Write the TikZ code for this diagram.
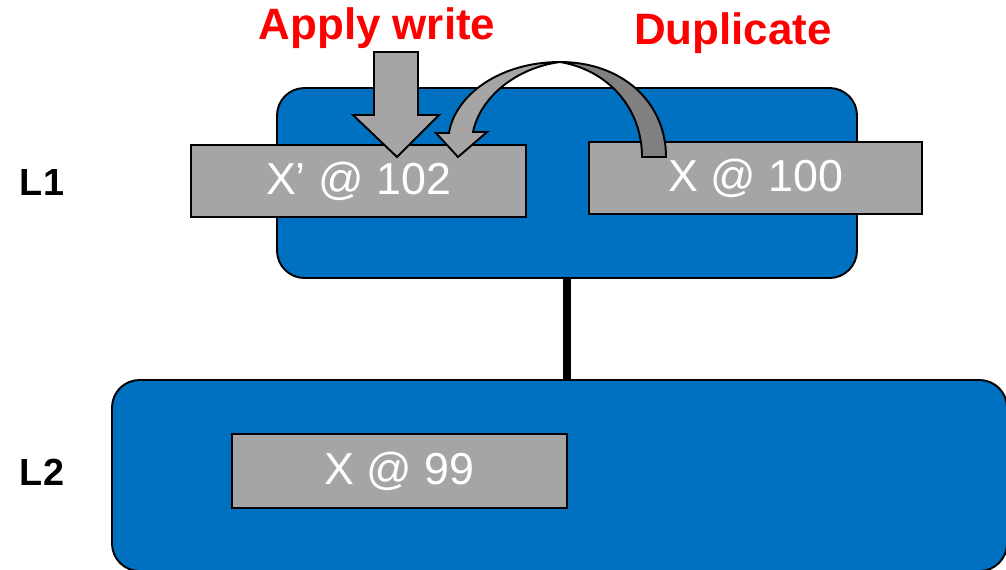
\documentclass[tikz,border=0pt]{standalone}
\usepackage{fontspec}
\setmainfont{Liberation Sans}
\definecolor{levelblue}{HTML}{0070C0}
\definecolor{entrygray}{HTML}{A5A5A5}
\definecolor{shadegray}{HTML}{808080}
\begin{document}
\begin{tikzpicture}[x=0.02cm,y=-0.02cm,
  level/.style={draw=black,line width=1.1pt,fill=levelblue,rounded corners=0.55cm,inner sep=0pt},
  entry/.style={draw=black,line width=1.1pt,fill=entrygray,text=white,inner sep=0pt,
    font=\fontsize{25.5}{30}\selectfont},
  lvlabel/.style={font=\fontsize{21.5}{26}\selectfont\bfseries},
  note/.style={font=\fontsize{25}{30}\selectfont\bfseries,text=red},
  blockarrow/.style={draw=black,line width=1.1pt,line join=miter}]
\useasboundingbox (0,0) rectangle (1006,569);
\begin{scope}
\clip (0,0) rectangle (1006,569);
% levels
\node[level,minimum width=580*0.02cm,minimum height=190*0.02cm] (l1) at (567,183) {};
\node[level,minimum width=895*0.02cm,minimum height=191*0.02cm] (l2) at (559.5,475.5) {};
\draw[line width=4.5pt] (l1.south) -- (l1.south |- l2.north);
% entries
\node[entry,minimum width=335*0.02cm,minimum height=72*0.02cm] (xnew) at (358.5,181) {X’ @ 102};
\node[entry,minimum width=333*0.02cm,minimum height=72*0.02cm] (xold) at (755.5,178) {X @ 100};
\node[entry,minimum width=335*0.02cm,minimum height=74*0.02cm] (xl2) at (399.5,471) {X @ 99};
\end{scope}
% level labels
\node[lvlabel] (lab1) at (42,182) {L1};
\node[lvlabel] (lab2) at (42,472) {L2};
% operation labels
\node[note] (apply) at (377,28) {Apply write};
\node[note] (dup) at (733,33) {Duplicate};
% write arrow
\draw[blockarrow,fill=entrygray] (374,52) -- (418,52) -- (418,115) -- (439,115)
  -- (397,157) -- (353,115) -- (374,115) -- cycle;
% duplicate arrow: back part
\draw[blockarrow,fill=shadegray] (560,62) .. controls (622,62) and (666,102) .. (666,157)
  -- (642,157) .. controls (642,108) and (608,70) .. (560,62) -- cycle;
% duplicate arrow: front part with head
\draw[blockarrow,fill=entrygray] (560,62) .. controls (500,62) and (455,95) .. (449,133)
  -- (436,133) -- (458,157) -- (487,132) -- (473,132)
  .. controls (480,98) and (515,68) .. (560,62) -- cycle;
\end{tikzpicture}
\end{document}
